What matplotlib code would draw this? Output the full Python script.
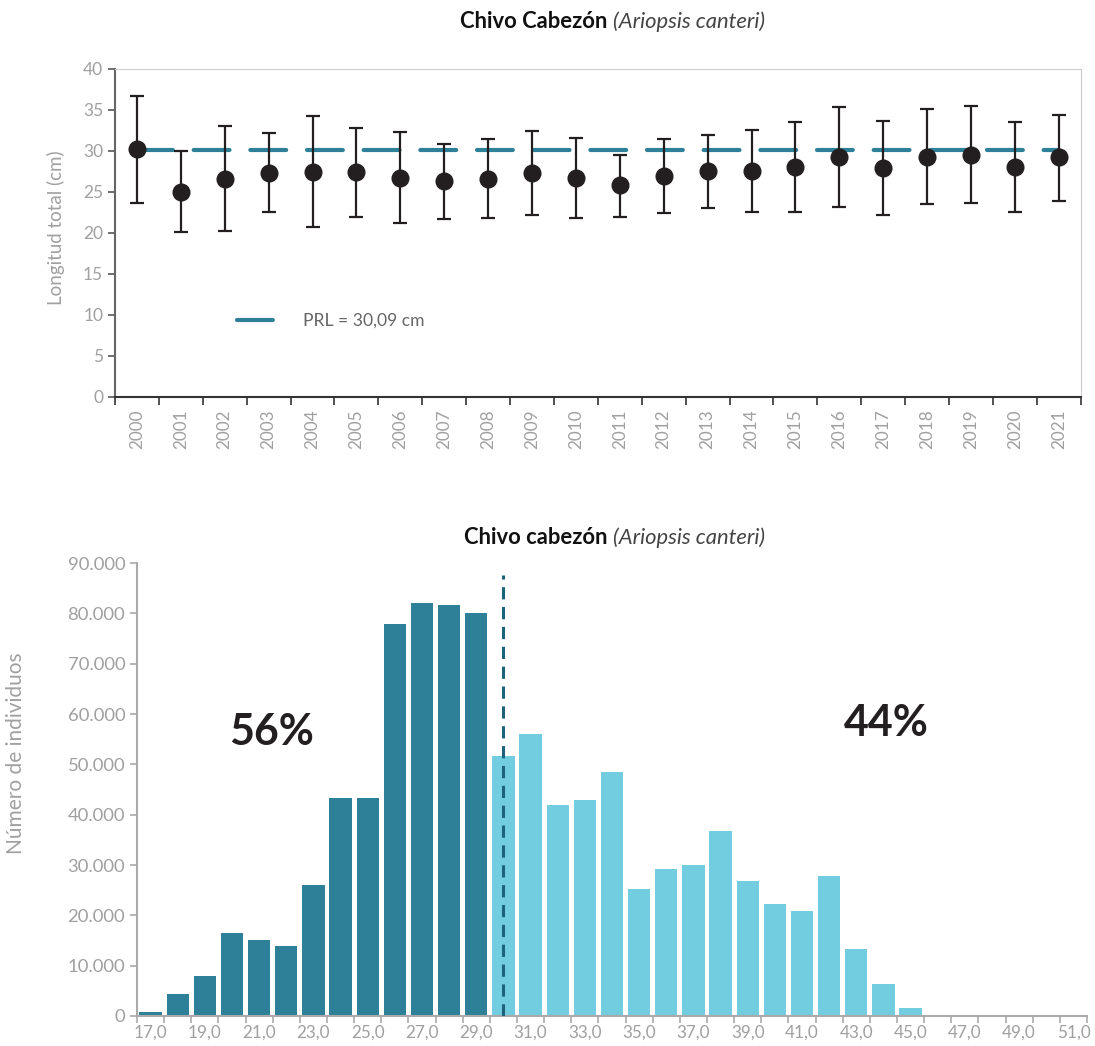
import matplotlib.pyplot as plt
import numpy as np

plt.rcParams['font.family'] = ['Lato', 'DejaVu Sans']

"""  Data  """
# top chart: mean total length per year with min/max whiskers
years = [str(y) for y in range(2000, 2022)]
mean_len = [30.2, 25.0, 26.6, 27.3, 27.4, 27.4, 26.7, 26.3, 26.6, 27.3, 26.7,
            25.8, 27.0, 27.5, 27.5, 28.1, 29.3, 27.9, 29.3, 29.5, 28.0, 29.2]
upper_len = [36.7, 30.0, 33.1, 32.2, 34.2, 32.8, 32.3, 30.9, 31.4, 32.4, 31.6,
             29.5, 31.4, 31.9, 32.5, 33.5, 35.4, 33.7, 35.1, 35.5, 33.5, 34.4]
lower_len = [23.7, 20.1, 20.2, 22.5, 20.7, 22.0, 21.2, 21.7, 21.8, 22.2, 21.8,
             22.0, 22.4, 23.1, 22.5, 22.6, 23.2, 22.2, 23.5, 23.6, 22.6, 23.9]
prl = 30.09

# bottom chart: number of individuals per length class
length_class = list(range(17, 52))
individuals = [700, 4300, 7900, 16500, 15100, 14000, 26000, 43300, 43400, 77900,
               82100, 81700, 80000, 51700, 56100, 41900, 43000, 48400, 25200, 29200,
               30000, 36800, 26900, 22300, 20900, 27800, 13300, 6400, 1600, 200,
               0, 0, 0, 0, 0]
pct_below = '56%'
pct_above = '44%'

dark_teal = '#2e8099'
light_blue = '#73cde0'
grey_txt = '#a0a0a0'

fig = plt.figure(figsize=(10.95, 10.46), dpi=100)

"""  Top chart  """
ax1 = fig.add_axes([0.105, 0.6205, 0.882, 0.3136])
x = np.arange(len(years))
ax1.plot([x[0], x[-1]], [prl, prl], color=dark_teal, lw=3, dashes=(8.6, 5.0),
         solid_capstyle='round', dash_capstyle='round', label='PRL = 30,09 cm', zorder=2)
yerr = [np.array(mean_len) - np.array(lower_len), np.array(upper_len) - np.array(mean_len)]
ax1.errorbar(x, mean_len, yerr=yerr, fmt='o', color='#231f20', ms=12, elinewidth=1.6,
             capsize=5, capthick=1.6, zorder=3)
ax1.set_xlim(-0.5, len(years) - 0.5)
ax1.set_ylim(0, 40)
ax1.set_yticks(range(0, 41, 5))
ax1.set_xticks(x)
ax1.set_xticklabels(years, rotation=90)
ax1.set_xticks(np.arange(-0.5, len(years)), minor=True)
ax1.tick_params(axis='x', which='major', length=0, pad=9, labelsize=12.3, labelcolor=grey_txt)
ax1.tick_params(axis='x', which='minor', length=6, width=1.2, color='#333333')
ax1.tick_params(axis='y', length=5, width=1.2, color='#555555', labelsize=12.5, labelcolor=grey_txt)
ax1.spines['left'].set_color('#666666')
ax1.spines['left'].set_linewidth(1.5)
ax1.spines['bottom'].set_color('#333333')
ax1.spines['bottom'].set_linewidth(1.5)
for s in ['top', 'right']:
    ax1.spines[s].set_color('#cccccc')
ax1.set_ylabel('Longitud total (cm)', color=grey_txt, fontsize=13.5)
ax1.yaxis.set_label_coords(-0.052, 0.515)
ax1.legend(loc='lower left', bbox_to_anchor=(0.11, 0.16), frameon=False,
           prop={'size': 12.6}, labelcolor='#666666', handlelength=2.4, handletextpad=1.4)

fig.text(0.56, 0.979, 'Chivo Cabezón ', ha='right', va='center', fontsize=15.8, fontweight='bold', color='#111111')
fig.text(0.56, 0.979, '(Ariopsis canteri)', ha='left', va='center', fontsize=15.8, style='italic', color='#444444')

"""  Bottom chart  """
ax2 = fig.add_axes([0.1251, 0.0287, 0.8676, 0.433])
colors = [dark_teal if c < 30 else light_blue for c in length_class]
ax2.bar(length_class, individuals, width=0.82, color=colors, zorder=2)
ax2.plot([prl - 0.1, prl - 0.1], [0, 87600], color='#1b627a', lw=2.2, ls=(0, (4, 2.5)), zorder=3)
ax2.set_xlim(length_class[0] - 0.5, length_class[-1] + 0.5)
ax2.set_ylim(0, 90000)
yt = list(range(0, 90001, 10000))
ax2.set_yticks(yt)
ax2.set_yticklabels(['{:,}'.format(v).replace(',', '.') for v in yt])
odd = [c for c in length_class if c % 2 == 1]
ax2.set_xticks(odd)
ax2.set_xticklabels(['{:.1f}'.format(c).replace('.', ',') for c in odd])
ax2.set_xticks(np.arange(length_class[0] - 0.5, length_class[-1] + 1), minor=True)
ax2.tick_params(axis='x', which='major', length=0, pad=6, labelsize=12.3, labelcolor=grey_txt)
ax2.tick_params(axis='x', which='minor', length=5, width=1.2, color='#aaaaaa')
ax2.tick_params(axis='y', length=5, width=1.2, color='#aaaaaa', labelsize=13.3, labelcolor=grey_txt)
for s in ['top', 'right']:
    ax2.spines[s].set_visible(False)
for s in ['left', 'bottom']:
    ax2.spines[s].set_color('#aaaaaa')
    ax2.spines[s].set_linewidth(1.5)
ax2.set_ylabel('Número de individuos', color=grey_txt, fontsize=15)
ax2.yaxis.set_label_coords(-0.117, 0.58)
ax2.text(21.45, 56500, pct_below, ha='center', va='center', fontsize=31, fontweight='bold', color='#231f20')
ax2.text(44.1, 58300, pct_above, ha='center', va='center', fontsize=31, fontweight='bold', color='#231f20')

fig.text(0.56, 0.4857, 'Chivo cabezón ', ha='right', va='center', fontsize=15.8, fontweight='bold', color='#111111')
fig.text(0.56, 0.4857, '(Ariopsis canteri)', ha='left', va='center', fontsize=15.8, style='italic', color='#444444')

fig.savefig('out.png', dpi=100)
